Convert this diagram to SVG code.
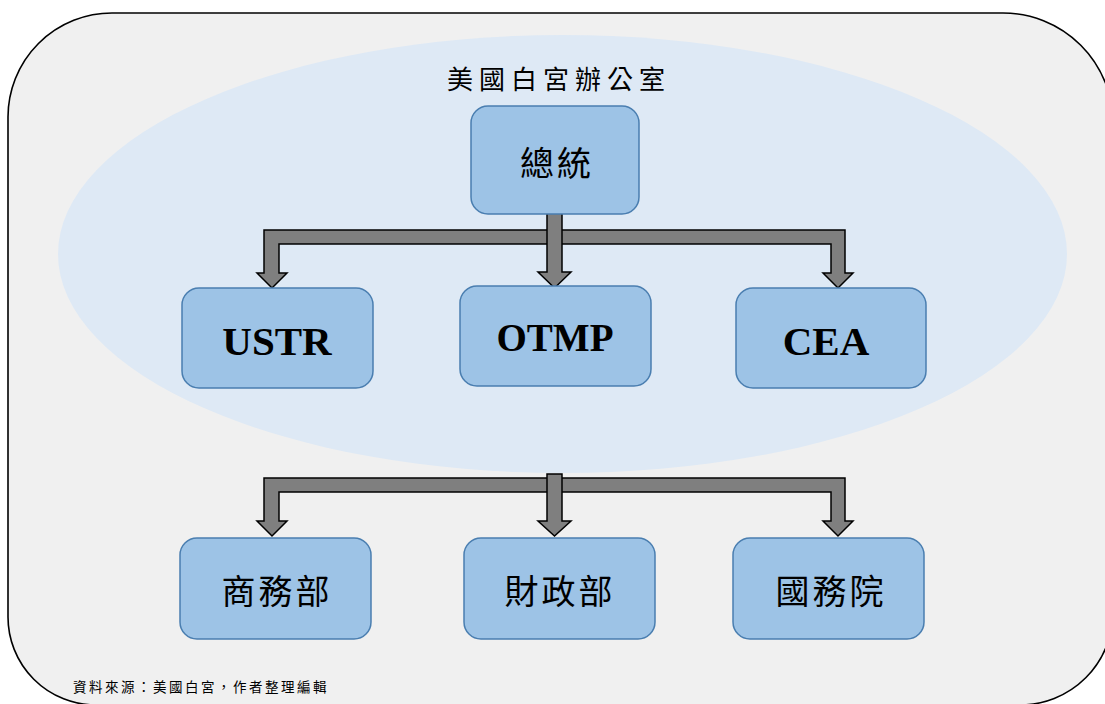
<svg xmlns="http://www.w3.org/2000/svg" width="1105" height="704" viewBox="0 0 1105 704">
<style>
.box{fill:#9dc3e6;stroke:#4a7eb0;stroke-width:1.5}
.arr{fill:#7f7f7f;stroke:#000;stroke-width:1.5;stroke-linejoin:miter}
.cjk{font-family:"Noto Sans CJK TC","Noto Sans CJK SC",sans-serif;fill:#000;text-anchor:middle}
.lat{font-family:"Liberation Serif","Times New Roman",serif;font-weight:bold;fill:#000;text-anchor:middle}
</style>
<rect width="1105" height="704" fill="#ffffff"/>
<path d="M112,13 H1003 A110,110 0 0 1 1113,123 V612 A93,93 0 0 1 1020,705 H96 A88,88 0 0 1 8,617 V117 A104,104 0 0 1 112,13 Z" fill="#f0f0f0" stroke="#000" stroke-width="1.6"/>
<ellipse cx="562.5" cy="254" rx="504.5" ry="219" fill="#dee9f5"/>
<text class="cjk" x="559" y="89" font-size="26" letter-spacing="6">美國白宮辦公室</text>
<g id="connectors">
<polygon class="arr" points="264,273 257,273 272,288 287,273 279,273 279,244 831,244 831,273 823,273 838,288 853,273 845,273 845,230 264,230"/>
<polygon class="arr" points="547,213 562,213 562,272 571,272 554.5,288 538,272 547,272"/>
<polygon class="arr" points="264,521 257,521 272,536 287,521 279,521 279,492 831,492 831,521 823,521 838,536 853,521 845,521 845,478 264,478"/>
<polygon class="arr" points="547,474 562,474 562,521 571,521 554.5,536 538,521 547,521"/>
</g>
<g id="president"><rect class="box" x="471" y="106" width="168" height="108" rx="17"/><text class="cjk" x="557" y="176" font-size="34" letter-spacing="3">總統</text></g>
<g id="ustr"><rect class="box" x="182" y="288" width="191" height="100" rx="17"/><text class="lat" x="277" y="355" font-size="41">USTR</text></g>
<g id="otmp"><rect class="box" x="460" y="286" width="191" height="100" rx="17"/><text class="lat" x="555" y="351" font-size="39">OTMP</text></g>
<g id="cea"><rect class="box" x="736" y="288" width="190" height="100" rx="17"/><text class="lat" x="826" y="355" font-size="41">CEA</text></g>
<g id="commerce"><rect class="box" x="180" y="538" width="191" height="101" rx="17"/><text class="cjk" x="277" y="604" font-size="34" letter-spacing="3">商務部</text></g>
<g id="treasury"><rect class="box" x="464" y="538" width="191" height="101" rx="17"/><text class="cjk" x="560" y="604" font-size="34" letter-spacing="3">財政部</text></g>
<g id="state"><rect class="box" x="733" y="538" width="191" height="101" rx="17"/><text class="cjk" x="831" y="604" font-size="34" letter-spacing="3">國務院</text></g>
<text x="73" y="692" font-family="Noto Sans CJK TC, Noto Sans CJK SC, sans-serif" font-size="13.5" letter-spacing="2.5" fill="#000">資料來源：美國白宮，作者整理編輯</text>
</svg>
